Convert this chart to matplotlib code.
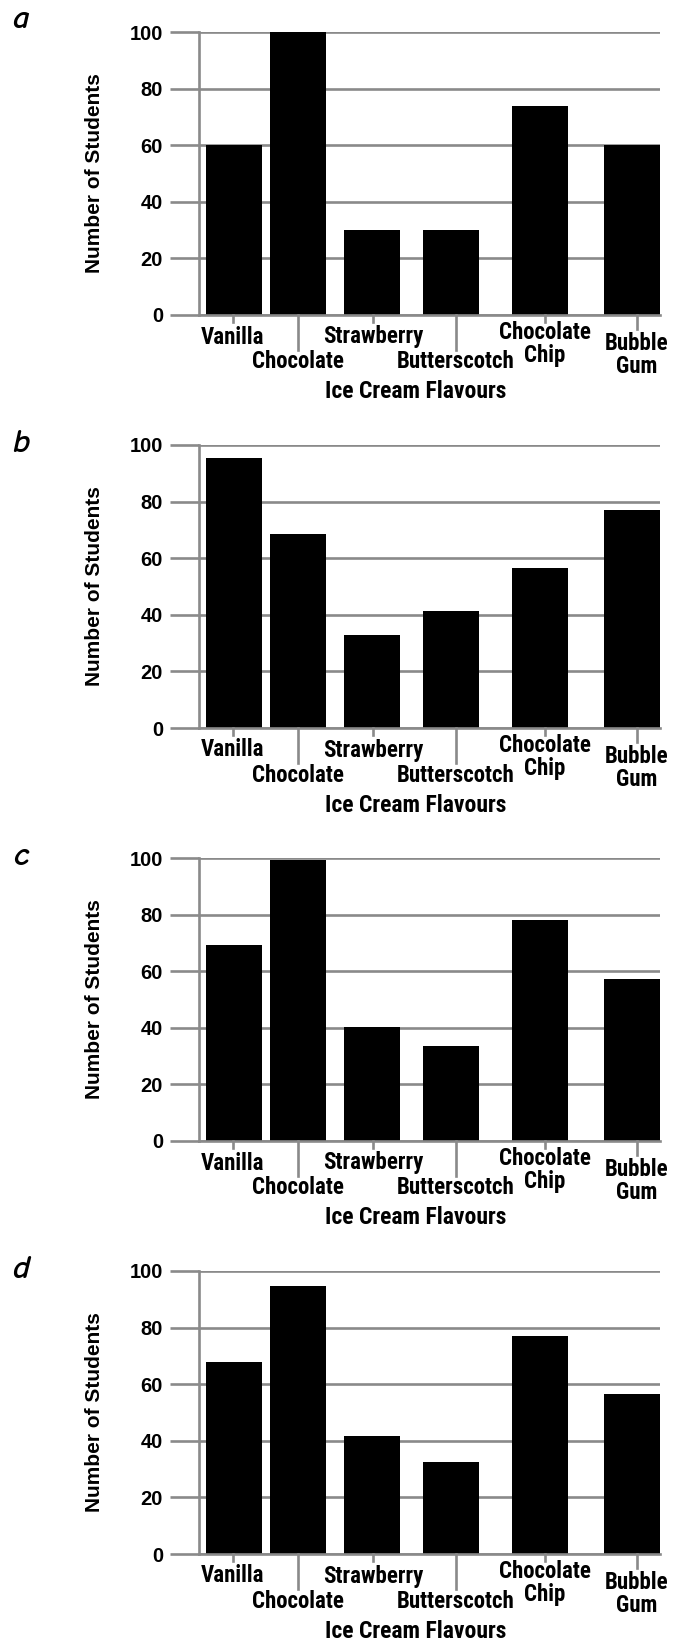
import matplotlib
matplotlib.use("Agg")
import matplotlib.pyplot as plt
import matplotlib.transforms as mtransforms

# Data
flavours = ["Vanilla", "Chocolate", "Strawberry", "Butterscotch",
            "Chocolate\nChip", "Bubble\nGum"]
panel_names = ["a", "b", "c", "d"]
students_a = [60, 100, 30, 30, 74, 60]
students_b = [95.5, 68.4, 32.7, 41.5, 56.7, 77.2]
students_c = [69.1, 99.4, 40.2, 33.4, 78.0, 57.1]
students_d = [68.0, 94.8, 41.6, 32.4, 77.2, 56.4]
y_ticks = [0, 20, 40, 60, 80, 100]

# Layout (pixel units inside each axes, spine at 0)
bar_pos = [35, 99, 173, 252, 341, 433]
tick_pos = [34, 99, 174, 257, 346, 438]
tick_len = [7, 35, 7, 35, 7, 14]          # px below axis
label_y = [22, 47, 22, 47, 29, 40]         # px below axis (label centre)
letter_dy = [-4, 7, 7, 7]

W, H, DPI = 683, 1646, 100
GRID = "#8a8a8a"
NARROW = ["Roboto Condensed", "Barlow Condensed", "Archivo Narrow", "DejaVu Sans"]
SANS = ["Liberation Sans", "DejaVu Sans"]
HAND = ["Comic Neue", "Architects Daughter", "DejaVu Sans"]

fig = plt.figure(figsize=(W / DPI, H / DPI), dpi=DPI)

all_values = [students_a, students_b, students_c, students_d]
for i, (name, vals) in enumerate(zip(panel_names, all_values)):
    top = 32 + 413 * i
    ax = fig.add_axes([199 / W, 1 - (top + 283) / H, 461 / W, 283 / H])
    ax.bar(bar_pos, vals, width=56, color="black", zorder=2)
    ax.set_xlim(0, 461)
    ax.set_ylim(0, 100)
    ax.set_axisbelow(True)
    ax.yaxis.grid(True, color=GRID, linewidth=1.9)
    ax.set_yticks(y_ticks)
    ax.set_yticklabels([str(t) for t in y_ticks], family=SANS, fontweight="bold", fontsize=14.5)
    ax.tick_params(axis="y", length=21, width=1.9, color=GRID, pad=5)
    ax.set_xticks([])
    for s in ["top", "right"]:
        ax.spines[s].set_visible(False)
    for s in ["left", "bottom"]:
        ax.spines[s].set_color(GRID)
        ax.spines[s].set_linewidth(1.9)
        ax.spines[s].set_zorder(3)

    trans = mtransforms.blended_transform_factory(ax.transData, ax.transAxes)
    for x, tl, ly, lab in zip(tick_pos, tick_len, label_y, flavours):
        ax.plot([x, x], [0, -tl / 283], transform=trans, color=GRID,
                linewidth=1.9, clip_on=False)
        ax.text(x, -ly / 283, lab, transform=trans, ha="center", va="center",
                family=NARROW, fontweight="bold", fontsize=16.5, linespacing=0.95)

    ax.text(217, -77 / 283, "Ice Cream Flavours", transform=trans, ha="center",
            va="center", family=NARROW, fontweight="bold", fontsize=17)
    ax.text(-104 / 461, 0.5, "Number of Students", transform=ax.transAxes,
            rotation=90, ha="center", va="center", family=SANS,
            fontweight="bold", fontsize=15)

    fig.text(21 / W, 1 - (top + letter_dy[i]) / H, name, ha="center", va="baseline",
             family=HAND, style="italic", fontweight="bold", fontsize=24)

fig.savefig("out.png", dpi=DPI)
